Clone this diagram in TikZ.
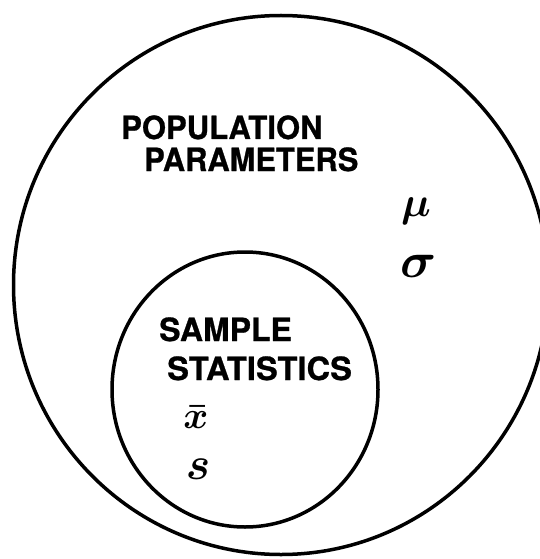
\documentclass[tikz,border=0pt]{standalone}
\usepackage{fontspec}
\usetikzlibrary{shapes.geometric}
\newfontfamily\lblfont{texgyreheros-bold.otf}[FakeBold=0.8]
\begin{document}
\begin{tikzpicture}[x=1pt,y=-1pt,
  ring/.style={draw=black,line width=3.5pt},
  lbl/.style={inner sep=0pt,anchor=base west,text=black,font=\lblfont\fontsize{32}{32}\selectfont},
  sym/.style={inner sep=0pt,anchor=center,text=black,font=\boldmath}]
\useasboundingbox (0,0) rectangle (540,559);
\clip (0,0) rectangle (540,559);
\fill[white] (0,0) rectangle (540,559);
\node[ring,ellipse,minimum width=535pt,minimum height=539pt,inner sep=0pt] (pop) at (281,285) {};
\node[ring,ellipse,minimum width=266pt,minimum height=275pt,inner sep=0pt] (smp) at (245,389.5) {};
\node[lbl] (t1) at (121,139) {\scalebox{0.97}[1]{POPULATION}};
\node[lbl] (t2) at (144,171) {\scalebox{0.965}[1]{PARAMETERS}};
\node[lbl] (t3) at (159,341) {\scalebox{1.0}[1]{SAMPLE}};
\node[lbl] (t4) at (167,380) {\scalebox{1.02}[1]{STATISTICS}};
\node[sym] (mu) at (416,211) {\scalebox{4.2}{$\mu$}};
\node[sym] (sg) at (419,266) {\scalebox{5}{$\sigma$}};
\node[sym] (xb) at (196,417) {\scalebox{3.8}{$\bar{x}$}};
\node[sym] (s) at (198,469) {\scalebox{4.6}{$s$}};
\end{tikzpicture}
\end{document}
